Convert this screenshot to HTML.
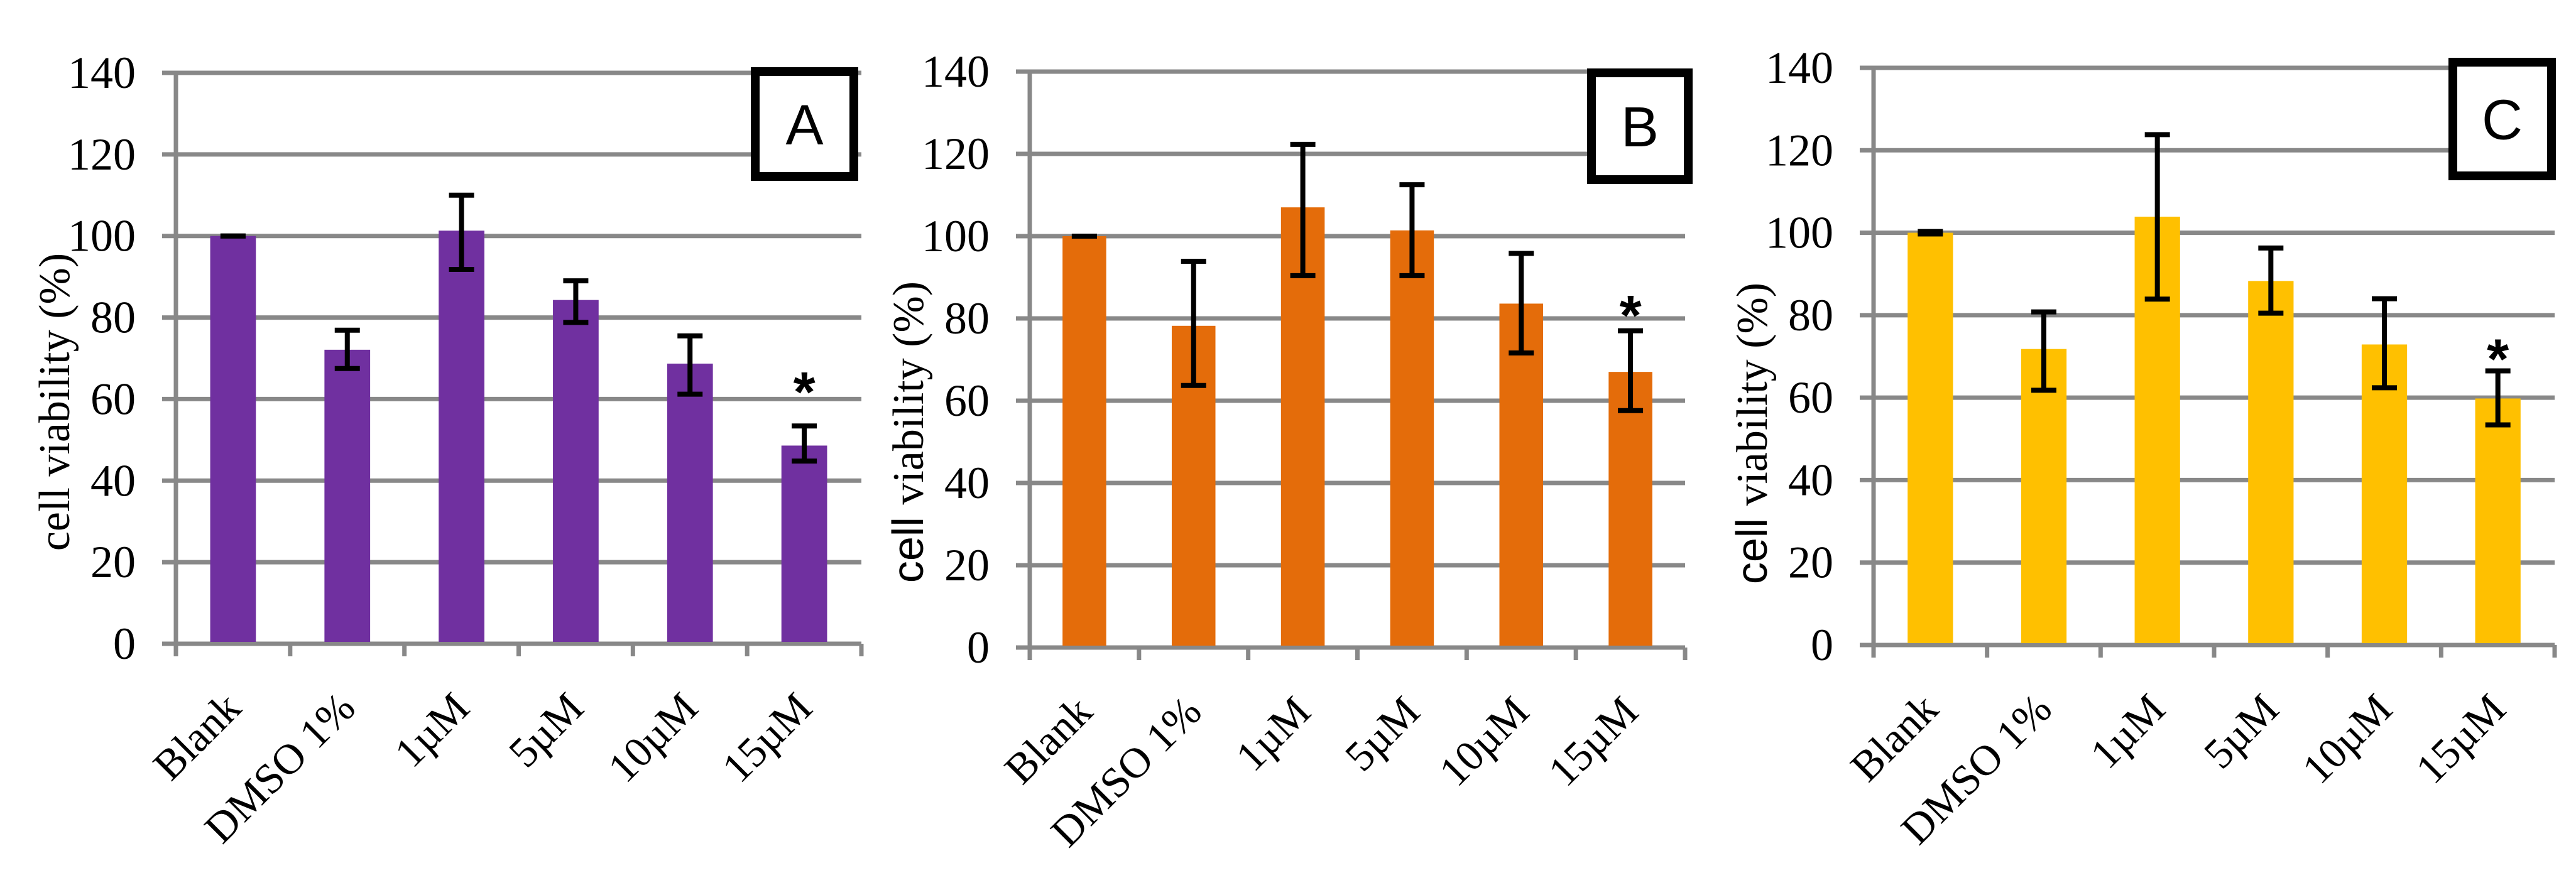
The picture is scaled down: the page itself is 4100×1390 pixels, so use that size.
<!DOCTYPE html>
<html><head><meta charset="utf-8"><style>
html,body{margin:0;padding:0;background:#fff;}
svg{display:block;}
</style></head><body>
<svg id="chart" xmlns="http://www.w3.org/2000/svg" width="4100" height="1390" viewBox="0 0 4100 1390"></svg>
<script>
const categories = ["Blank", "DMSO 1%", "1\u00b5M", "5\u00b5M", "10\u00b5M", "15\u00b5M"];
const yTicks = [0, 20, 40, 60, 80, 100, 120, 140];
const valuesA = [100, 72.1, 101.3, 84.3, 68.7, 48.6];
const errUpA = [0, 4.8, 8.7, 4.7, 6.8, 4.8];
const errDownA = [0, 4.6, 9.5, 5.5, 7.5, 3.8];
const valuesB = [100, 78.2, 107, 101.4, 83.6, 67];
const errUpB = [0, 15.7, 15.3, 11.1, 12.2, 10];
const errDownB = [0, 14.5, 16.6, 11, 12, 9.4];
const valuesC = [100, 71.8, 103.9, 88.3, 72.9, 59.8];
const errUpC = [0.3, 9, 19.9, 8, 11.1, 6.7];
const errDownC = [0.3, 10, 20, 7.8, 10.5, 6.4];
const starIndex = 5;
const starValues = [65, 84, 72.6];
const panelLetters = ["A", "B", "C"];

const panels = [
  {key:"a", vals:valuesA, up:errUpA, dn:errDownA, color:"#7030A0", x0:280, x1:1371, y0:1025, yTop:116,
   box:[1195,107,171,181], labelX:88, labelY:640, sansCell:false},
  {key:"b", vals:valuesB, up:errUpB, dn:errDownB, color:"#E46C0A", x0:1639, x1:2682, y0:1031, yTop:114,
   box:[2526,109,168,184], labelX:1447, labelY:688, sansCell:true},
  {key:"c", vals:valuesC, up:errUpC, dn:errDownC, color:"#FFC000", x0:2982, x1:4066, y0:1027, yTop:108,
   box:[3897,92,171,195], labelX:2790, labelY:690, sansCell:true}
];
const NS = "http://www.w3.org/2000/svg";
const svg = document.getElementById("chart");
function mk(tag, attrs, parent){
  const e = document.createElementNS(NS, tag);
  for (const k in attrs) e.setAttribute(k, attrs[k]);
  (parent||svg).appendChild(e);
  return e;
}
const SERIF = "'Liberation Serif', 'Times New Roman', serif";
const SANS = "'Liberation Sans', Arial, sans-serif";

panels.forEach((p, pi) => {
  const g = mk("g", {});
  
  
  const yScale = v => p.y0 - (v / 140) * (p.y0 - p.yTop);
  const cw = (p.x1 - p.x0) / categories.length;
  const xCenter = i => p.x0 + cw * (i + 0.5);
  yTicks.forEach(t => {
    const y = yScale(t);
    const ln = mk("line", {x1:p.x0 - 22, x2:p.x1, y1:y, y2:y, stroke:"#888", "stroke-width":7}, g);
    
    
    const tx = mk("text", {x:p.x0 - 64, y:y + 24, "text-anchor":"end", "font-family":SERIF, "font-size":72, fill:"#000"}, g);
    tx.textContent = t;
    
    
  });
  const ax = mk("line", {x1:p.x0, x2:p.x0, y1:p.yTop - 3, y2:p.y0 + 20, stroke:"#888", "stroke-width":7}, g);
  
  
  for (let i = 1; i <= categories.length; i++) {
    const x = p.x0 + cw * i;
    const tk = mk("line", {x1:x, x2:x, y1:p.y0, y2:p.y0 + 20, stroke:"#888", "stroke-width":7}, g);
    
    
  }
  const bw = cw * 0.4;
  p.vals.forEach((v, i) => {
    const x = xCenter(i);
    const r = mk("rect", {x:x - bw/2, y:yScale(v), width:bw, height:yScale(0) - yScale(v) - 3, fill:p.color}, g);
    
    
    const yt = yScale(v + p.up[i]), yb = yScale(v - p.dn[i]);
    const eg = mk("g", {stroke:"#000", "stroke-width":8, fill:"none"}, g);
    
    
    mk("line", {x1:x, x2:x, y1:yt, y2:yb}, eg);
    mk("line", {x1:x - 20, x2:x + 20, y1:yt, y2:yt}, eg);
    mk("line", {x1:x - 20, x2:x + 20, y1:yb, y2:yb}, eg);
    const lx = x + 16, ly = p.y0 + 106;
    const lt = mk("text", {x:lx, y:ly, "text-anchor":"end", "font-family":SERIF, "font-size":68, fill:"#000",
      transform:"rotate(-45 " + lx + " " + ly + ")"}, g);
    lt.textContent = categories[i];
    
    
  });
  const si = starIndex;
  const sc = yScale(starValues[pi]);
  const st = mk("text", {x:xCenter(si), y:sc + 52, "text-anchor":"middle", "font-family":SANS, "font-weight":"bold", "font-size":90, fill:"#000"}, g);
  st.textContent = "*";
  
  
  const yl = mk("text", {x:p.labelX + 22, y:p.labelY, "text-anchor":"middle", "font-family":SERIF, "font-size":70, fill:"#000",
    transform:"rotate(-90 " + (p.labelX + 22) + " " + p.labelY + ")"}, g);
  
  
  if (p.sansCell) {
    const s1 = mk("tspan", {"font-family":SANS}, yl); s1.textContent = "cell ";
    const s2 = mk("tspan", {}, yl); s2.textContent = "viability (%)";
  } else {
    yl.textContent = "cell viability (%)";
  }
  const [bx, by, bwid, bh] = p.box;
  const bg = mk("g", {}, g);
  
  
  mk("rect", {x:bx + 7, y:by + 7, width:bwid - 14, height:bh - 14, fill:"#fff", stroke:"#000", "stroke-width":14}, bg);
  const lt = mk("text", {x:bx + bwid/2, y:by + bh/2 + 32, "text-anchor":"middle", "font-family":SANS, "font-size":90, fill:"#000"}, bg);
  lt.textContent = panelLetters[pi];
});
</script>
</body></html>
